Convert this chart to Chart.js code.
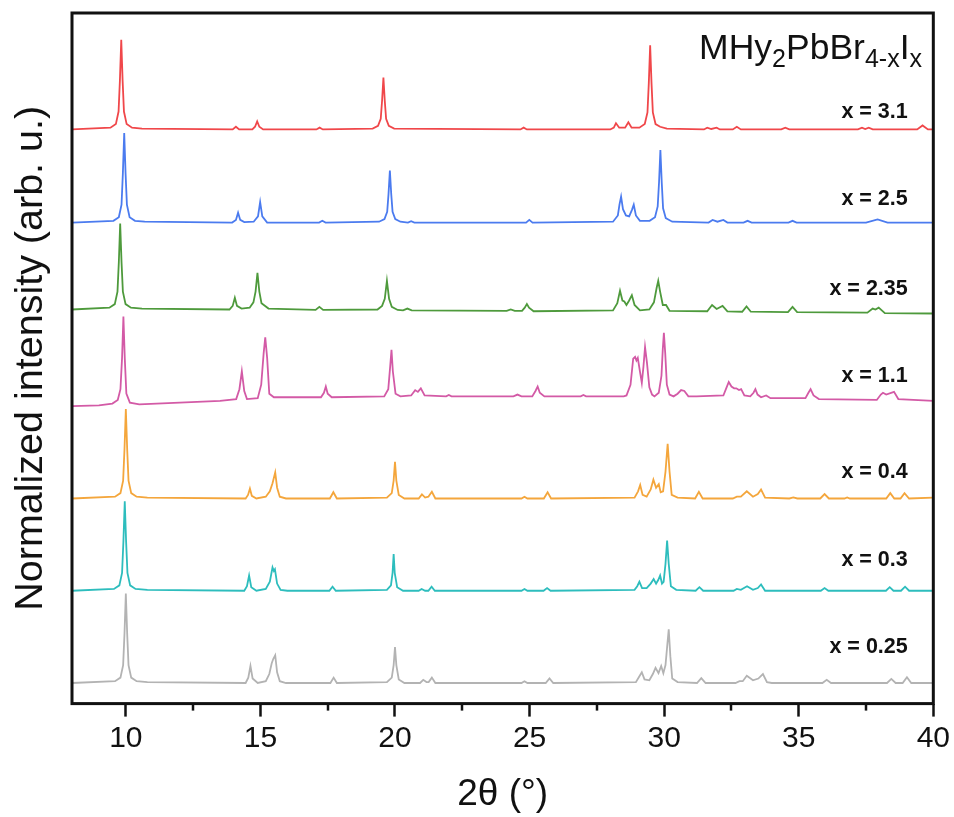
<!DOCTYPE html>
<html lang="en">
  <head>
    <meta charset="UTF-8" />
    <script src="https://cdn.jsdelivr.net/npm/chart.js"></script>
    <title>MHy2PbBr4-xIx XRD</title>
    <style>
      body { margin: 0; background: #fff; }
    </style>
  </head>
  <body>
    <canvas id="xrdChart" width="954" height="817"></canvas>

    <script>
      // x tick values (2theta, degrees)
      const xMajorTicks = [10, 15, 20, 25, 30, 35, 40];
      const xMinorTicks = [12.5, 17.5, 22.5, 27.5, 32.5, 37.5];

      // composition labels, top to bottom
      const seriesNames = ["x = 3.1", "x = 2.5", "x = 2.35", "x = 1.1", "x = 0.4", "x = 0.3", "x = 0.25"];
      // vertical stacking offsets (normalized units)
      const seriesOffsets = [6.41, 5.37, 4.40, 3.41, 2.29, 1.26, 0.23];

      // patterns as [2theta, normalized intensity]
      const pattern31 = [[8,0],[9.43,0.02],[9.63,0.06],[9.73,0.2],[9.78,0.55],[9.83,1.0],[9.88,0.55],[9.93,0.2],[10.03,0.06],[10.23,0.02],[10.6,0.01],[13.97,0],[14.09,0.03],[14.21,0],[14.7,0],[14.8,0.03],[14.88,0.09],[14.96,0.03],[15.1,0],[17.08,0],[17.2,0.02],[17.32,0],[19.17,0.01],[19.37,0.04],[19.47,0.12],[19.52,0.32],[19.57,0.58],[19.62,0.32],[19.67,0.12],[19.77,0.04],[19.97,0.01],[24.66,0],[24.78,0.02],[24.9,0],[28.0,0],[28.13,0.02],[28.21,0.07],[28.33,0.02],[28.55,0.02],[28.67,0.08],[28.79,0.02],[29.08,0.02],[29.28,0.06],[29.38,0.19],[29.43,0.52],[29.48,0.94],[29.53,0.52],[29.58,0.19],[29.68,0.06],[29.85,0.03],[30.1,0.01],[31.48,0],[31.6,0.02],[31.75,0.005],[31.95,0.02],[32.07,0],[32.55,0],[32.7,0.03],[32.85,0],[34.35,0],[34.5,0.02],[34.65,0],[37.2,0],[37.35,0.02],[37.47,0.005],[37.6,0.02],[37.75,0],[39.4,0],[39.6,0.045],[39.8,0],[40,0]];
      const pattern25 = [[8,0],[9.54,0.02],[9.74,0.06],[9.84,0.2],[9.89,0.55],[9.94,1.0],[9.99,0.55],[10.04,0.2],[10.14,0.06],[10.34,0.02],[10.7,0.01],[13.95,0],[14.09,0.03],[14.17,0.11],[14.25,0.03],[14.4,0.005],[14.75,0.01],[14.91,0.07],[14.99,0.23],[15.07,0.07],[15.25,0],[17.18,0],[17.3,0.02],[17.42,0],[19.41,0.01],[19.61,0.04],[19.71,0.12],[19.76,0.32],[19.81,0.58],[19.86,0.32],[19.91,0.12],[20.01,0.04],[20.2,0.01],[20.48,0],[20.6,0.015],[20.72,0],[24.87,0],[24.99,0.03],[25.11,0],[28.1,0.01],[28.28,0.08],[28.34,0.2],[28.4,0.29],[28.47,0.15],[28.58,0.08],[28.7,0.07],[28.8,0.14],[28.87,0.2],[28.95,0.08],[29.1,0.02],[29.46,0.02],[29.66,0.06],[29.76,0.18],[29.81,0.45],[29.86,0.81],[29.91,0.45],[29.96,0.16],[30.06,0.05],[30.12,0.04],[30.3,0.01],[31.65,0],[31.8,0.03],[31.98,0.01],[32.2,0.03],[32.35,0],[32.95,0],[33.1,0.02],[33.25,0],[34.62,0],[34.77,0.02],[34.92,0],[37.5,0],[37.93,0.035],[38.3,0],[40,0]];
      const pattern235 = [[8,0],[9.39,0.02],[9.59,0.06],[9.69,0.2],[9.74,0.53],[9.79,0.96],[9.84,0.53],[9.89,0.2],[9.99,0.06],[10.19,0.02],[10.6,0.01],[13.85,0],[13.97,0.04],[14.05,0.13],[14.13,0.04],[14.3,0.01],[14.6,0.02],[14.74,0.08],[14.82,0.2],[14.89,0.41],[14.96,0.2],[15.04,0.07],[15.3,0.01],[17.05,-0.005],[17.19,0.03],[17.33,-0.005],[19.35,0],[19.52,0.04],[19.62,0.12],[19.7,0.32],[19.78,0.12],[19.88,0.03],[20.1,-0.005],[20.3,-0.01],[20.46,0.01],[20.62,-0.01],[24.15,-0.015],[24.3,0],[24.45,-0.015],[24.72,-0.015],[24.82,0.02],[24.9,0.06],[24.98,0.02],[25.15,-0.02],[28.1,-0.01],[28.26,0.07],[28.36,0.21],[28.45,0.1],[28.52,0.09],[28.6,0.05],[28.7,0.1],[28.8,0.16],[28.9,0.05],[29.1,-0.01],[29.45,0],[29.62,0.08],[29.72,0.24],[29.78,0.32],[29.85,0.2],[29.95,0.05],[30.07,0.05],[30.2,-0.015],[31.6,-0.02],[31.78,0.05],[31.95,0.005],[32.17,0.04],[32.35,-0.02],[32.9,-0.025],[33.06,0.035],[33.22,-0.025],[34.6,-0.03],[34.77,0.03],[34.94,-0.03],[37.55,-0.035],[37.75,0.01],[37.85,0.0],[37.97,0.02],[38.2,-0.04],[40,-0.045]];
      const pattern11 = [[8,-0.09],[9.0,-0.08],[9.5,-0.06],[9.7,-0.02],[9.8,0.1],[9.86,0.45],[9.91,0.91],[9.96,0.45],[10.02,0.05],[10.15,-0.05],[10.5,-0.07],[12,-0.05],[13.5,-0.03],[14.1,-0.01],[14.22,0.1],[14.31,0.3],[14.4,0.08],[14.5,-0.01],[14.9,0],[15.03,0.15],[15.12,0.5],[15.18,0.68],[15.25,0.45],[15.33,0.05],[15.5,0.01],[17.25,0.01],[17.36,0.06],[17.43,0.13],[17.5,0.05],[17.65,0.01],[19.6,0.02],[19.75,0.1],[19.82,0.35],[19.87,0.54],[19.92,0.3],[20.02,0.05],[20.2,0.02],[20.6,0.03],[20.75,0.09],[20.85,0.07],[20.96,0.11],[21.1,0.03],[21.9,0.02],[22.0,0.035],[22.1,0.02],[24.4,0.02],[24.55,0.04],[24.7,0.02],[25.1,0.02],[25.22,0.08],[25.3,0.13],[25.38,0.06],[25.55,0.02],[26.9,0.02],[27.0,0.035],[27.1,0.02],[28.5,0.02],[28.6,0.03],[28.75,0.15],[28.85,0.44],[28.92,0.46],[28.97,0.42],[29.02,0.45],[29.1,0.3],[29.17,0.17],[29.23,0.35],[29.29,0.57],[29.36,0.4],[29.45,0.12],[29.55,0.04],[29.64,0.02],[29.8,0.06],[29.9,0.25],[29.95,0.55],[29.99,0.73],[30.04,0.5],[30.1,0.15],[30.2,0.04],[30.35,0.02],[30.5,0.05],[30.63,0.09],[30.75,0.08],[30.9,0.02],[31.2,0.02],[32.2,0.03],[32.32,0.12],[32.4,0.18],[32.5,0.13],[32.6,0.11],[32.68,0.11],[32.78,0.09],[32.86,0.1],[32.98,0.03],[33.2,0.02],[33.32,0.06],[33.39,0.1],[33.47,0.04],[33.6,0.01],[33.79,0.03],[33.95,0.0],[35.25,0.0],[35.36,0.06],[35.44,0.1],[35.55,0.03],[35.75,-0.01],[37.9,-0.02],[38.05,0.04],[38.13,0.06],[38.25,0.04],[38.54,0.07],[38.7,-0.01],[40,-0.03]];
      const pattern04 = [[8,0],[9.6,0.02],[9.8,0.06],[9.9,0.2],[9.95,0.55],[10.0,1.0],[10.05,0.55],[10.1,0.2],[10.2,0.06],[10.4,0.02],[10.8,0.01],[14.45,0],[14.54,0.04],[14.61,0.11],[14.68,0.03],[14.85,0],[15.2,0.02],[15.35,0.08],[15.45,0.17],[15.55,0.29],[15.62,0.12],[15.72,0.02],[15.95,0],[17.58,0],[17.71,0.07],[17.84,0],[19.7,0.01],[19.88,0.06],[19.95,0.2],[20.0,0.41],[20.05,0.2],[20.14,0.04],[20.35,0],[20.88,0],[21.0,0.045],[21.12,0.01],[21.24,0.02],[21.37,0.075],[21.5,0],[24.7,0],[24.81,0.02],[24.92,0],[25.53,0],[25.67,0.07],[25.8,0],[28.9,0.01],[29.03,0.08],[29.11,0.15],[29.2,0.04],[29.35,0.02],[29.5,0.1],[29.6,0.21],[29.7,0.12],[29.8,0.16],[29.87,0.07],[29.96,0.08],[30.05,0.3],[30.13,0.61],[30.2,0.3],[30.28,0.04],[30.5,0.01],[31.15,0],[31.29,0.075],[31.43,0],[32.55,0],[32.7,0.02],[32.85,0.02],[33.07,0.08],[33.3,0.02],[33.48,0.05],[33.6,0.1],[33.75,0.01],[34.65,0],[34.8,0.012],[34.95,0],[35.8,0],[35.96,0.05],[36.12,0],[36.7,0],[36.8,0.012],[36.9,0],[38.25,0],[38.4,0.06],[38.55,0.0],[38.78,0],[38.93,0.06],[39.1,0],[40,0.01]];
      const pattern03 = [[8,0],[9.56,0.02],[9.76,0.06],[9.86,0.2],[9.91,0.55],[9.96,1.0],[10.01,0.55],[10.06,0.2],[10.16,0.06],[10.36,0.02],[10.8,0.01],[14.4,0],[14.5,0.05],[14.58,0.17],[14.66,0.04],[14.85,0],[15.2,0.02],[15.35,0.1],[15.45,0.26],[15.5,0.22],[15.54,0.24],[15.62,0.08],[15.75,0.01],[16.0,0],[17.56,0],[17.68,0.045],[17.8,0],[19.7,0.01],[19.85,0.06],[19.91,0.2],[19.95,0.41],[19.99,0.2],[20.08,0.04],[20.3,0],[20.88,0],[20.99,0.02],[21.12,0],[21.24,0],[21.36,0.045],[21.48,0],[24.7,0],[24.81,0.02],[24.92,0],[25.52,0],[25.65,0.03],[25.78,0],[28.9,0.01],[29.0,0.05],[29.08,0.1],[29.18,0.03],[29.35,0.03],[29.5,0.08],[29.61,0.13],[29.7,0.08],[29.78,0.12],[29.85,0.17],[29.92,0.08],[29.98,0.1],[30.05,0.3],[30.11,0.56],[30.17,0.3],[30.25,0.05],[30.45,0.01],[31.17,0],[31.31,0.04],[31.45,0],[32.58,0],[32.7,0.02],[32.85,0.01],[33.08,0.05],[33.3,0.01],[33.48,0.03],[33.6,0.07],[33.75,0],[35.82,0],[35.96,0.03],[36.1,0],[38.24,0],[38.38,0.04],[38.52,0],[38.8,0],[38.95,0.045],[39.1,0],[40,0]];
      const pattern025 = [[8,0],[9.6,0.02],[9.8,0.06],[9.9,0.2],[9.95,0.55],[10.0,1.0],[10.05,0.55],[10.1,0.2],[10.2,0.06],[10.4,0.02],[10.8,0.01],[14.45,0],[14.55,0.06],[14.63,0.19],[14.71,0.05],[14.9,0],[15.2,0.02],[15.33,0.1],[15.42,0.22],[15.48,0.27],[15.55,0.31],[15.62,0.12],[15.72,0.02],[15.95,0],[17.6,0],[17.72,0.06],[17.84,0],[19.7,0.01],[19.88,0.06],[19.95,0.2],[20.0,0.4],[20.05,0.2],[20.14,0.04],[20.35,0],[20.93,0],[21.05,0.035],[21.17,0.01],[21.25,0.01],[21.37,0.06],[21.5,0],[24.7,0],[24.81,0.02],[24.92,0],[25.6,0],[25.74,0.05],[25.88,0],[28.95,0.01],[29.07,0.07],[29.17,0.12],[29.27,0.04],[29.45,0.03],[29.58,0.1],[29.68,0.17],[29.79,0.11],[29.89,0.19],[29.97,0.11],[30.05,0.2],[30.11,0.4],[30.17,0.6],[30.23,0.3],[30.3,0.05],[30.5,0.01],[31.22,0],[31.38,0.055],[31.54,0],[32.65,0],[32.8,0.02],[32.92,0.02],[33.07,0.08],[33.3,0.03],[33.5,0.05],[33.67,0.1],[33.82,0.01],[34.0,0],[35.88,0],[36.04,0.035],[36.2,0],[38.28,0],[38.44,0.045],[38.6,0],[38.86,0],[39.02,0.065],[39.18,0],[40,0]];

      const patterns = [pattern31, pattern25, pattern235, pattern11, pattern04, pattern03, pattern025];
      const lineColors = ["#f0474a", "#4b7bef", "#4e9a3c", "#d35aa6", "#f4a63c", "#2dbdbd", "#b3b3b3"];

      const fontFamily = "'Liberation Sans', Arial, Helvetica, sans-serif";

      // frame, minor ticks and all the free text
      const decorations = {
        id: "decorations",
        afterDraw(chart, args, opts) {
          const { ctx, chartArea } = chart;
          const xs = chart.scales.x;
          const ys = chart.scales.y;
          ctx.save();

          // minor ticks
          ctx.strokeStyle = "#111";
          ctx.lineWidth = 2.5;
          xMinorTicks.forEach((v) => {
            const px = Math.round(xs.getPixelForValue(v));
            ctx.beginPath();
            ctx.moveTo(px, chartArea.bottom);
            ctx.lineTo(px, chartArea.bottom + 7);
            ctx.stroke();
          });

          // box
          ctx.lineWidth = 3;
          ctx.strokeRect(chartArea.left, chartArea.top, chartArea.right - chartArea.left, chartArea.bottom - chartArea.top);

          // y title
          ctx.fillStyle = "#111";
          ctx.font = "39.5px " + fontFamily;
          ctx.textAlign = "center";
          ctx.textBaseline = "middle";
          ctx.translate(opts.yTitleX, (chartArea.top + chartArea.bottom) / 2);
          ctx.rotate(-Math.PI / 2);
          ctx.fillText("Normalized intensity (arb. u.)", 0, 0);
          ctx.setTransform(1, 0, 0, 1, 0, 0);

          // composition labels
          ctx.font = "bold 21.5px " + fontFamily;
          ctx.textAlign = "right";
          seriesNames.forEach((name, i) => {
            ctx.fillText(name, xs.getPixelForValue(opts.labelX), ys.getPixelForValue(opts.labelY[i]));
          });

          // formula MHy2PbBr4-xIx
          const parts = [
            ["MHy", false], ["2", true], ["PbBr", false], ["4-x", true], ["I", false], ["x", true],
          ];
          const bigFont = "35.5px " + fontFamily;
          const smallFont = "25px " + fontFamily;
          let total = 0;
          parts.forEach(([t, sub]) => {
            ctx.font = sub ? smallFont : bigFont;
            total += ctx.measureText(t).width;
          });
          let cx = opts.formulaRight - total;
          ctx.textAlign = "left";
          ctx.textBaseline = "alphabetic";
          parts.forEach(([t, sub]) => {
            ctx.font = sub ? smallFont : bigFont;
            ctx.fillText(t, cx, opts.formulaBaseline + (sub ? 8 : 0));
            cx += ctx.measureText(t).width;
          });

          ctx.restore();
        },
      };

      const datasets = patterns.map((p, i) => ({
        label: seriesNames[i],
        data: p.map(([t, v]) => ({ x: t, y: v + seriesOffsets[i] })),
        borderColor: lineColors[i],
        borderWidth: 1.8,
        pointRadius: 0,
        tension: 0,
        fill: false,
      }));

      const chart = new Chart(document.getElementById("xrdChart"), {
        type: "line",
        data: { datasets: datasets },
        plugins: [decorations],
        options: {
          responsive: false,
          animation: false,
          layout: { padding: { left: 72, top: 13, right: 20, bottom: 0 } },
          plugins: {
            legend: { display: false },
            tooltip: { enabled: false },
            decorations: {
              yTitleX: 31,
              labelX: 39.05,
              labelY: [6.6, 5.63, 4.63, 3.66, 2.58, 1.6, 0.63],
              formulaRight: 922,
              formulaBaseline: 59,
            },
          },
          scales: {
            x: {
              type: "linear",
              min: 8,
              max: 40,
              afterBuildTicks: (scale) => {
                scale.ticks = xMajorTicks.map((v) => ({ value: v }));
              },
              ticks: {
                color: "#111",
                font: { family: fontFamily, size: 30 },
                padding: 4,
                maxRotation: 0,
                autoSkip: false,
              },
              grid: {
                drawOnChartArea: false,
                drawTicks: true,
                tickLength: 13,
                tickWidth: 2.5,
                tickColor: "#111",
              },
              border: { display: false },
              title: {
                display: true,
                text: "2θ (°)",
                color: "#111",
                font: { family: fontFamily, size: 37 },
                padding: { top: 12, bottom: 0 },
              },
            },
            y: {
              display: false,
              min: 0,
              max: 7.71,
            },
          },
        },
      });
    </script>
  </body>
</html>
